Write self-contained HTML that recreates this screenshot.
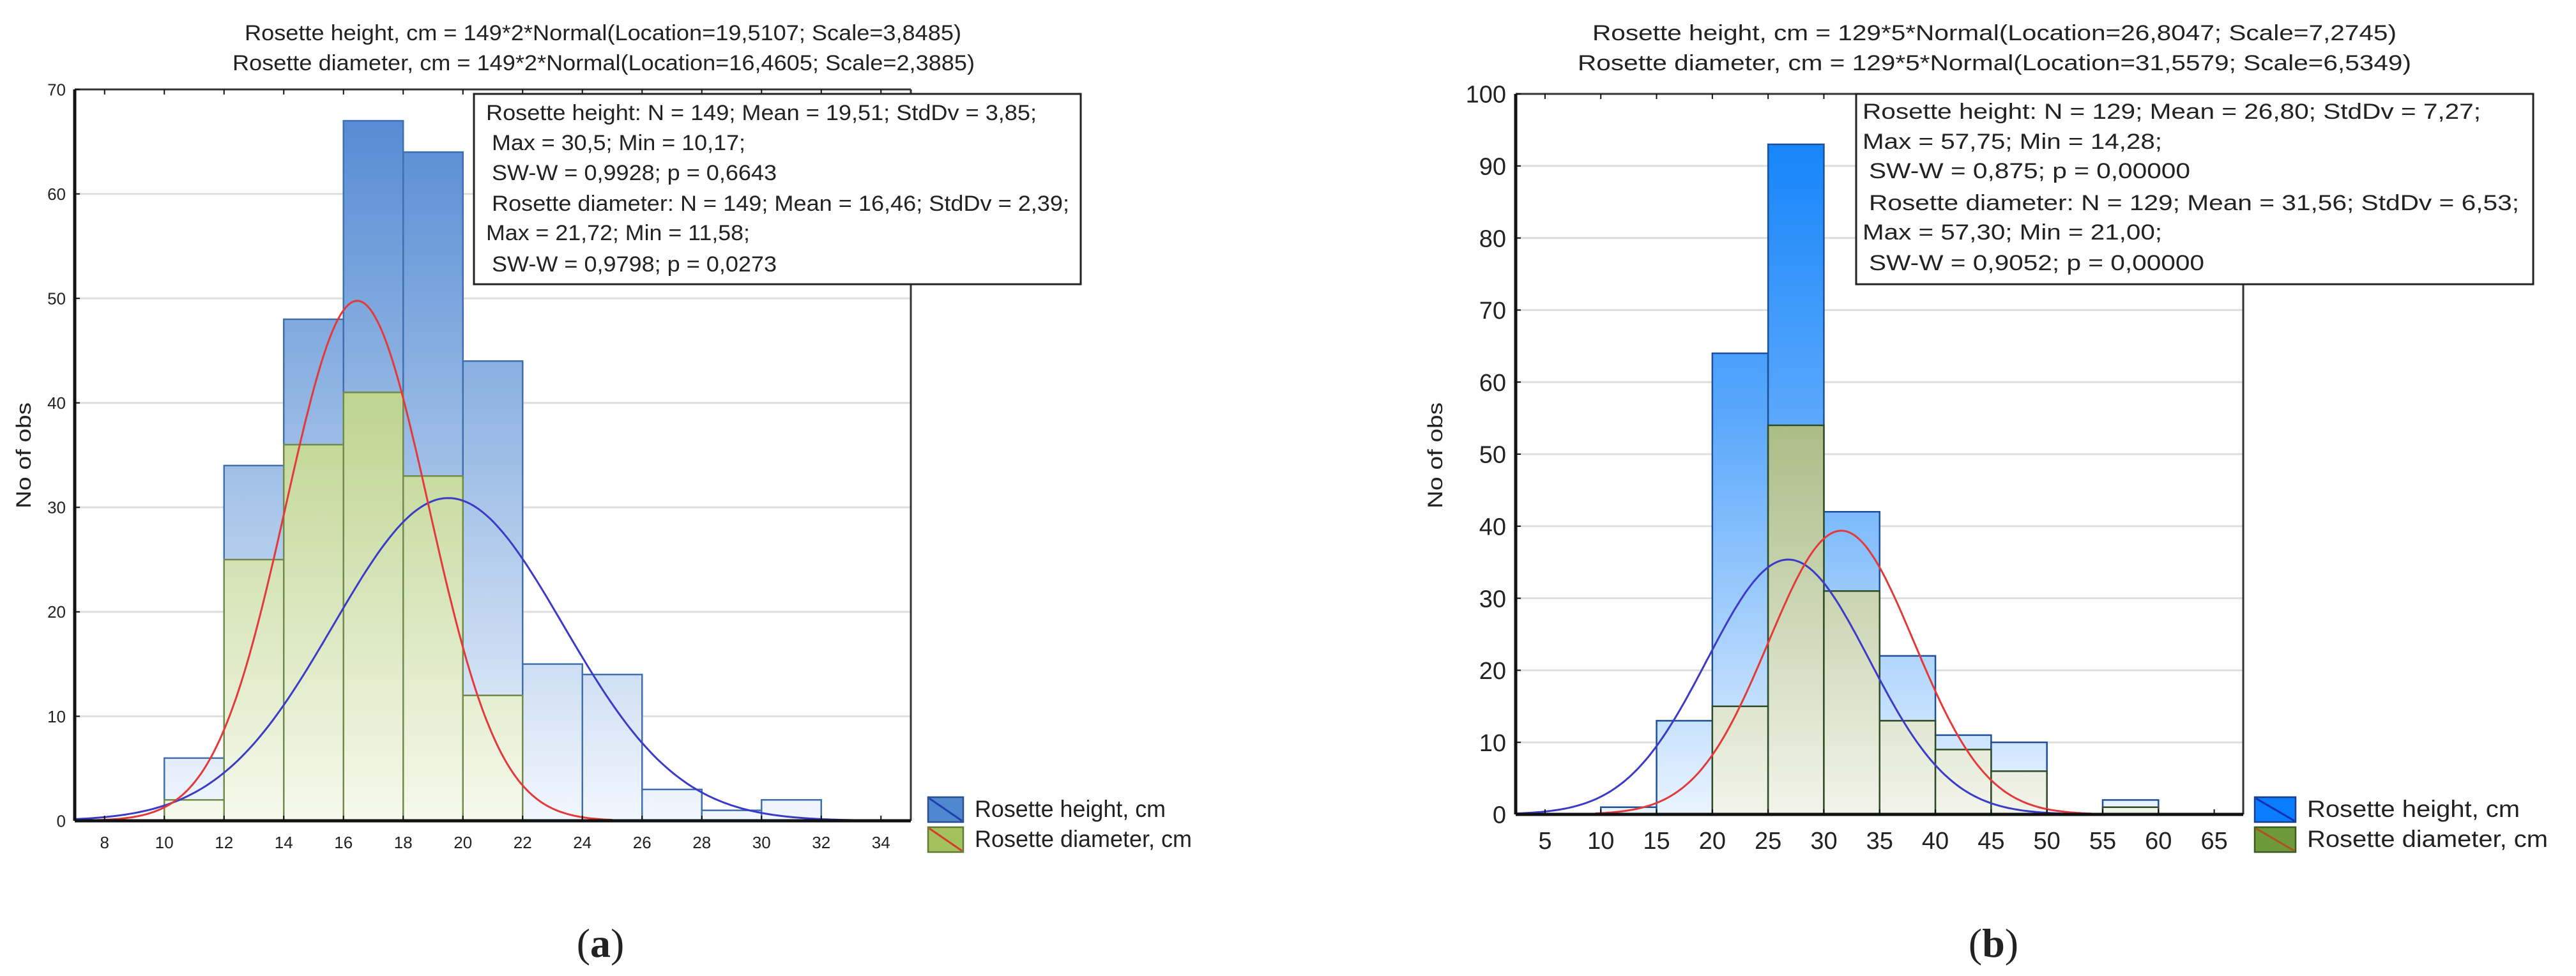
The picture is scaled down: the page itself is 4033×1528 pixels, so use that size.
<!DOCTYPE html>
<html><head><meta charset="utf-8"><style>
html,body{margin:0;padding:0;background:#fff;}
svg{display:block;}
text{font-family:"Liberation Sans",Arial,sans-serif;fill:#222;}
</style></head><body>
<svg id="fig" width="4033" height="1528" viewBox="0 0 4033 1528" xmlns="http://www.w3.org/2000/svg">
<defs>
<linearGradient id="gBlueA" gradientUnits="userSpaceOnUse" x1="0" y1="140" x2="0" y2="1285"><stop offset="0" stop-color="#4f87d2"/><stop offset="0.5" stop-color="#9dbde6"/><stop offset="1" stop-color="#f2f7fd"/></linearGradient>
<linearGradient id="gGreenA" gradientUnits="userSpaceOnUse" x1="0" y1="600" x2="0" y2="1285"><stop offset="0" stop-color="#bcd38d"/><stop offset="1" stop-color="#f6f9ec"/></linearGradient>
<linearGradient id="gBlueB" gradientUnits="userSpaceOnUse" x1="0" y1="147" x2="0" y2="1275"><stop offset="0" stop-color="#0a7ffa"/><stop offset="0.45" stop-color="#5aa8fb"/><stop offset="1" stop-color="#eaf4fe"/></linearGradient>
<linearGradient id="gGreenB" gradientUnits="userSpaceOnUse" x1="0" y1="650" x2="0" y2="1275"><stop offset="0" stop-color="#a9bb84"/><stop offset="1" stop-color="#f2f4ea"/></linearGradient>
</defs>
<g id="chartA"></g>
<g id="chartB"></g>
</svg>
<script>
// ---------- Chart A data ----------
const aBinStarts = [10,12,14,16,18,20,22,24,26,28,30];
const aHeightCounts = [6,34,48,67,64,44,15,14,3,1,2];
const aDiamBinStarts = [10,12,14,16,18,20];
const aDiamCounts = [2,25,36,41,33,12];
const aBinWidth = [2];
const aHeightFit = [149, 2, 19.5107, 3.8485];
const aDiamFit = [149, 2, 16.4605, 2.3885];
const aXTicks = [8,10,12,14,16,18,20,22,24,26,28,30,32,34];
const aYTicks = [0,10,20,30,40,50,60,70];
// ---------- Chart B data ----------
const bBinStarts = [10,15,20,25,30,35,40,45,55];
const bHeightCounts = [1,13,64,93,42,22,11,10,2];
const bDiamBinStarts = [20,25,30,35,40,45,55];
const bDiamCounts = [15,54,31,13,9,6,1];
const bBinWidth = [5];
const bHeightFit = [129, 5, 26.8047, 7.2745];
const bDiamFit = [129, 5, 31.5579, 6.5349];
const bXTicks = [5,10,15,20,25,30,35,40,45,50,55,60,65];
const bYTicks = [0,10,20,30,40,50,60,70,80,90,100];

const NS="http://www.w3.org/2000/svg";
function mk(parent,tag,attrs,txt){const e=document.createElementNS(NS,tag);for(const k in attrs)e.setAttribute(k,attrs[k]);if(txt!==undefined)e.textContent=txt;parent.appendChild(e);return e;}
function normal(fit,x){const [n,w,m,s]=fit;return n*w*Math.exp(-0.5*((x-m)/s)**2)/(s*Math.sqrt(2*Math.PI));}

function drawChart(g,cfg){
  const X=v=>cfg.L+(v-cfg.xmin)/(cfg.xmax-cfg.xmin)*(cfg.R-cfg.L);
  const Y=v=>cfg.B-(v-cfg.ymin)/(cfg.ymax-cfg.ymin)*(cfg.B-cfg.T);
  cfg.titles.forEach((t,i)=>{const e=mk(g,'text',{x:t[1],y:cfg.titleY[i],'font-size':34,textLength:t[2],lengthAdjust:'spacingAndGlyphs'},t[0]);
    
    });
  cfg.yTicks.forEach(v=>{if(v>cfg.ymin){const l=mk(g,'line',{x1:cfg.L,x2:cfg.R,y1:Y(v),y2:Y(v),stroke:'#dedede','stroke-width':3});
    
    }});
  const bw=cfg.bw[0];
  cfg.hStarts.forEach((s,i)=>{const r=mk(g,'rect',{x:X(s),y:Y(cfg.hCounts[i]),width:X(s+bw)-X(s),height:Y(0)-Y(cfg.hCounts[i]),fill:cfg.blueFill,stroke:cfg.blueStroke,'stroke-width':2.5});
    
    });
  cfg.dStarts.forEach((s,i)=>{const r=mk(g,'rect',{x:X(s),y:Y(cfg.dCounts[i]),width:X(s+bw)-X(s),height:Y(0)-Y(cfg.dCounts[i]),fill:cfg.greenFill,stroke:cfg.greenStroke,'stroke-width':2.5});
    
    });
  function curve(fit,x0,x1,col,name){let d='';for(let i=0;i<=200;i++){const x=x0+(x1-x0)*i/200;d+=(i?'L':'M')+X(x).toFixed(1)+','+Y(normal(fit,x)).toFixed(1);}
    const p=mk(g,'path',{d:d,fill:'none',stroke:col,'stroke-width':3});
    
    }
  curve(cfg.hFit,cfg.hCurve[0],cfg.hCurve[1],'#3b3bc8','height-normal-curve');
  curve(cfg.dFit,cfg.dCurve[0],cfg.dCurve[1],'#e23a3a','diameter-normal-curve');
  mk(g,'line',{x1:cfg.L,x2:cfg.R,y1:cfg.T,y2:cfg.T,stroke:'#333','stroke-width':3});
  mk(g,'line',{x1:cfg.R,x2:cfg.R,y1:cfg.T,y2:cfg.B,stroke:'#333','stroke-width':3});
  const ax=mk(g,'line',{x1:cfg.L,x2:cfg.L,y1:cfg.T,y2:cfg.B,stroke:'#111','stroke-width':5});
  
  
  const bx=mk(g,'line',{x1:cfg.L,x2:cfg.R,y1:cfg.B,y2:cfg.B,stroke:'#111','stroke-width':5});
  
  
  cfg.xTicks.forEach(v=>{mk(g,'line',{x1:X(v),x2:X(v),y1:cfg.B,y2:cfg.B-8,stroke:'#111','stroke-width':2});
    mk(g,'line',{x1:X(v),x2:X(v),y1:cfg.T,y2:cfg.T+8,stroke:'#111','stroke-width':2});
    const t=mk(g,'text',{x:X(v),y:cfg.xLabY,'font-size':cfg.tickFs,'text-anchor':'middle'},String(v));
    
    });
  cfg.yTicks.forEach(v=>{mk(g,'line',{x1:cfg.L,x2:cfg.L+8,y1:Y(v),y2:Y(v),stroke:'#111','stroke-width':2});
    const t=mk(g,'text',{x:cfg.yLabX,y:Y(v)+cfg.tickFs*0.36,'font-size':cfg.tickFs,'text-anchor':'end'},String(v));
    
    });
  const yt=mk(g,'text',{x:0,y:0,'font-size':32,'text-anchor':'middle',transform:`translate(${cfg.yTitleX},713) rotate(-90)`,textLength:166,lengthAdjust:'spacingAndGlyphs'},'No of obs');
  
  
  const sb=mk(g,'rect',{x:cfg.box[0],y:cfg.box[1],width:cfg.box[2],height:cfg.box[3],fill:'#fff',stroke:'#222','stroke-width':3});
  
  
  cfg.stats.forEach((s,i)=>{const t=mk(g,'text',{x:s[1],y:cfg.statY[i],'font-size':34,textLength:s[2],lengthAdjust:'spacingAndGlyphs'},s[0]);
    
    });
  cfg.legend.forEach((lg,i)=>{const y0=1248+i*47;
    const r=mk(g,'rect',{x:cfg.legX,y:y0,width:cfg.legW,height:39,fill:lg[1],stroke:lg[2],'stroke-width':2.5});
    
    
    mk(g,'line',{x1:cfg.legX+2,y1:y0+2,x2:cfg.legX+cfg.legW-2,y2:y0+37,stroke:lg[3],'stroke-width':3});
    const t=mk(g,'text',{x:cfg.legX+cfg.legW+18,y:y0+31,'font-size':37,textLength:lg[4],lengthAdjust:'spacingAndGlyphs'},lg[0]);
    
    });
  const pl=mk(g,'text',{x:cfg.panelX,y:1498,'font-size':64,'text-anchor':'middle',style:'font-family:"Liberation Serif",serif'});
  
  
  mk(pl,'tspan',{},'(');mk(pl,'tspan',{'font-weight':'bold'},cfg.panel);mk(pl,'tspan',{},')');
}

drawChart(document.getElementById('chartA'),{
  L:117,R:1426,T:140,B:1285,xmin:7,xmax:35,ymin:0,ymax:70,
  titles:[['Rosette height, cm = 149*2*Normal(Location=19,5107; Scale=3,8485)',383,1122],['Rosette diameter, cm = 149*2*Normal(Location=16,4605; Scale=2,3885)',364,1162]],
  titleY:[63,110],
  hStarts:aBinStarts,hCounts:aHeightCounts,dStarts:aDiamBinStarts,dCounts:aDiamCounts,bw:aBinWidth,
  blueFill:'url(#gBlueA)',blueStroke:'#3f6fae',greenFill:'url(#gGreenA)',greenStroke:'#6f8a4a',
  hFit:aHeightFit,dFit:aDiamFit,hCurve:[7,33],dCurve:[7,25],
  xTicks:aXTicks,yTicks:aYTicks,tickFs:26,xLabY:1328,yLabX:103,yTitleX:48,
  box:[742,147,950,298],
  stats:[['Rosette height: N = 149; Mean = 19,51; StdDv = 3,85;',761,862],[' Max = 30,5; Min = 10,17;',770,397],[' SW-W = 0,9928; p = 0,6643',770,446],[' Rosette diameter: N = 149; Mean = 16,46; StdDv = 2,39;',770,904],['Max = 21,72; Min = 11,58;',761,413],[' SW-W = 0,9798; p = 0,0273',770,446]],
  statY:[188,235,282,330,376,425],
  legX:1453,legW:55,
  legend:[['Rosette height, cm','#4f87d0','#2a4f8a','#1f3fb0',299],['Rosette diameter, cm','#a3c25e','#5e7a34','#d83a2a',340]],
  panelX:940,panel:'a'
});
drawChart(document.getElementById('chartB'),{
  L:2373,R:3512,T:147,B:1275,xmin:2.37,xmax:67.6,ymin:0,ymax:100,
  titles:[['Rosette height, cm = 129*5*Normal(Location=26,8047; Scale=7,2745)',2493,1259],['Rosette diameter, cm = 129*5*Normal(Location=31,5579; Scale=6,5349)',2470,1305]],
  titleY:[63,110],
  hStarts:bBinStarts,hCounts:bHeightCounts,dStarts:bDiamBinStarts,dCounts:bDiamCounts,bw:bBinWidth,
  blueFill:'url(#gBlueB)',blueStroke:'#1d4f9a',greenFill:'url(#gGreenB)',greenStroke:'#2f4a26',
  hFit:bHeightFit,dFit:bDiamFit,hCurve:[2.4,52],dCurve:[9.5,54],
  xTicks:bXTicks,yTicks:bYTicks,tickFs:38,xLabY:1329,yLabX:2358,yTitleX:2258,
  box:[2906,147,1060,298],
  stats:[['Rosette height: N = 129; Mean = 26,80; StdDv = 7,27;',2916,968],['Max = 57,75; Min = 14,28;',2916,469],[' SW-W = 0,875; p = 0,00000',2926,503],[' Rosette diameter: N = 129; Mean = 31,56; StdDv = 6,53;',2926,1018],['Max = 57,30; Min = 21,00;',2916,469],[' SW-W = 0,9052; p = 0,00000',2926,525]],
  statY:[186,233,279,329,375,423],
  legX:3530,legW:64,
  legend:[['Rosette height, cm','#0a7cff','#1a3f8a','#1030b0',333],['Rosette diameter, cm','#6e9a3a','#3b5a22','#b0521e',377]],
  panelX:3121,panel:'b'
});
</script>
</body></html>
